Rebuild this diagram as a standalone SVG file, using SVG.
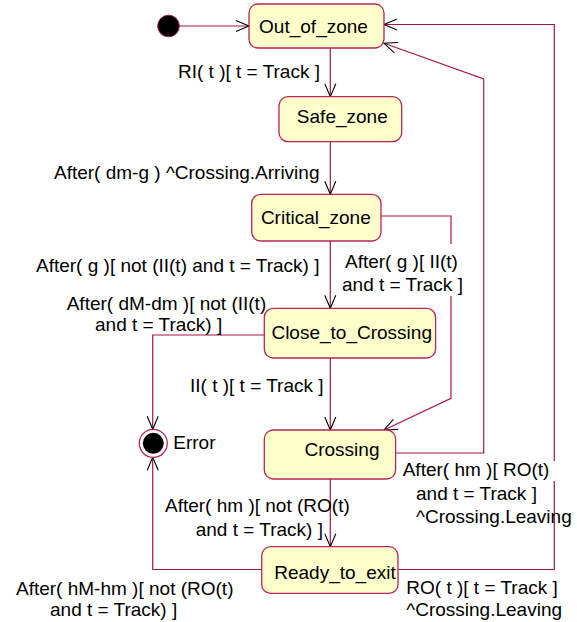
<svg xmlns="http://www.w3.org/2000/svg" width="577" height="622" viewBox="0 0 577 622">
<style>
.st rect{fill:#FFFFCC;stroke:#B8245C;stroke-width:1.3}
text{font-family:"Liberation Sans",Arial,sans-serif;font-size:19px;fill:#000}
.c{fill:none;stroke:#A8154C;stroke-width:1.2}
.bg{fill:#fff;stroke:none}
</style>
<defs>
<marker id="arr" markerUnits="userSpaceOnUse" markerWidth="16" markerHeight="16" viewBox="-14 -8 16 16" refX="0" refY="0" orient="auto">
<path d="M-13,-5.5 L0,0 L-13,5.5" fill="none" stroke="#000" stroke-width="1.1"/>
</marker>
</defs>
<rect width="577" height="622" fill="#fff"/>
<g id="connectors">
<path class="c" d="M179.5,26 L249,26" marker-end="url(#arr)"/>
<path class="c" d="M330.3,48 L330.3,96.7" marker-end="url(#arr)"/>
<path class="c" d="M330.3,142 L330.3,194.3" marker-end="url(#arr)"/>
<path class="c" d="M330.3,241 L330.3,308.3" marker-end="url(#arr)"/>
<path class="c" d="M381,216 L451,216 L451,398.3 L384,430" marker-end="url(#arr)"/>
<path class="c" d="M264.3,335 L152.7,335 L152.7,429.3" marker-end="url(#arr)"/>
<path class="c" d="M330.3,358 L330.3,430" marker-end="url(#arr)"/>
<path class="c" d="M395.7,453 L483.7,453 L483.7,79 L384,43.3" marker-end="url(#arr)"/>
<path class="c" d="M330.3,479 L330.3,546.7" marker-end="url(#arr)"/>
<path class="c" d="M261.7,569.5 L152.7,569.5 L152.7,457.3" marker-end="url(#arr)"/>
<path class="c" d="M398,569.5 L554.3,569.5 L554.3,24.5 L384,24.5" marker-end="url(#arr)"/>
</g>
<g id="labels">
<text x="178" y="78">RI( t )[ t = Track ]</text>
<text x="54" y="179">After( dm-g ) ^Crossing.Arriving</text>
<text x="36" y="271.7">After( g )[ not (II(t) and t = Track) ]</text>
<rect class="bg" x="341" y="244" width="123" height="52"/>
<text x="345" y="267.7">After( g )[ II(t)</text>
<text x="342" y="291">and t = Track ]</text>
<text x="66.7" y="310">After( dM-dm )[ not (II(t)</text>
<text x="95" y="331">and t = Track) ]</text>
<text x="190" y="391.7">II( t )[ t = Track ]</text>
<rect class="bg" x="401" y="461" width="157" height="20"/>
<text x="402.7" y="475.5">After( hm )[ RO(t)</text>
<text x="416" y="499.5">and t = Track ]</text>
<text x="416" y="522.5">^Crossing.Leaving</text>
<text x="165" y="512.3">After( hm )[ not (RO(t)</text>
<text x="195.7" y="535.7">and t = Track) ]</text>
<text x="16" y="594.5">After( hM-hm )[ not (RO(t)</text>
<text x="50" y="616">and t = Track) ]</text>
<text x="406.3" y="594">RO( t )[ t = Track ]</text>
<text x="406.3" y="616">^Crossing.Leaving</text>
</g>
<g id="initial">
<circle cx="168.5" cy="26" r="10.8" fill="#000" stroke="#A8154C" stroke-width="1"/>
</g>
<g id="Error">
<circle cx="153.3" cy="443.3" r="14" fill="#fff" stroke="#B8245C" stroke-width="1.3"/>
<circle cx="153.3" cy="443.3" r="10.5" fill="#000"/>
<text x="173.3" y="449">Error</text>
</g>
<g id="Out_of_zone" class="st">
<rect x="249" y="4" width="135" height="44" rx="9"/>
<text x="313.5" y="32.7" text-anchor="middle">Out_of_zone</text>
</g>
<g id="Safe_zone" class="st">
<rect x="279" y="96.7" width="122.7" height="45" rx="9"/>
<text x="342.3" y="122.7" text-anchor="middle">Safe_zone</text>
</g>
<g id="Critical_zone" class="st">
<rect x="251.7" y="194.3" width="129.3" height="46.7" rx="9"/>
<text x="315.8" y="224" text-anchor="middle">Critical_zone</text>
</g>
<g id="Close_to_Crossing" class="st">
<rect x="264.3" y="308.3" width="171.3" height="49.7" rx="9"/>
<text x="351.7" y="339.3" text-anchor="middle">Close_to_Crossing</text>
</g>
<g id="Crossing" class="st">
<rect x="264.3" y="430" width="131.3" height="49" rx="9"/>
<text x="342" y="455.7" text-anchor="middle">Crossing</text>
</g>
<g id="Ready_to_exit" class="st">
<rect x="261.7" y="546.7" width="136.3" height="46.7" rx="9"/>
<text x="335" y="579" text-anchor="middle">Ready_to_exit</text>
</g>
</svg>
